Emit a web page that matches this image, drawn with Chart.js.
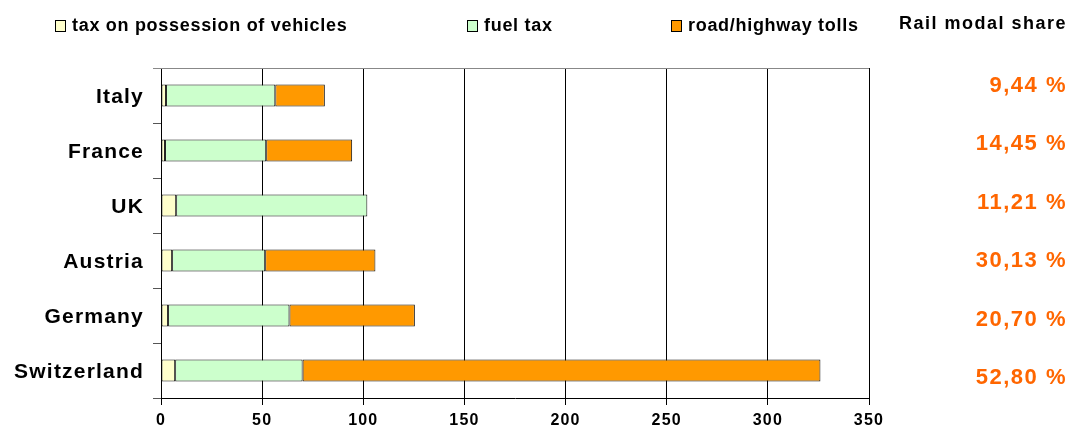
<!DOCTYPE html>
<html>
<head>
<meta charset="utf-8">
<script src="https://cdn.jsdelivr.net/npm/chart.js@4"></script>
<style>
  html, body { margin: 0; padding: 0; background: #fff; }
  #wrap { width: 1072px; height: 435px; }
</style>
</head>
<body>
<div id="wrap"><canvas id="chart"></canvas></div>
<script>
const countries = ['Italy', 'France', 'UK', 'Austria', 'Germany', 'Switzerland'];
const possessionTax = [2.5, 2, 7.5, 5.5, 3.5, 7];
const fuelTax = [54, 50, 94.5, 46, 60, 63];
const tolls = [24.5, 42.5, 0, 54.5, 62, 256];
const railShare = ['9,44 %', '14,45 %', '11,21 %', '30,13 %', '20,70 %', '52,80 %'];
const xTicks = [0, 50, 100, 150, 200, 250, 300, 350];

const FONT = '"Liberation Sans", Arial, sans-serif';

// wider letter spacing for the axis labels
const spacing = {
  id: 'spacing',
  beforeDraw(chart) { chart.ctx.letterSpacing = '1.2px'; }
};

// legend, top border and the rail modal share column drawn by hand
const extras = {
  id: 'extras',
  afterDraw(chart) {
    const ctx = chart.ctx;
    const area = chart.chartArea;
    ctx.save();
    ctx.strokeStyle = '#888';
    ctx.lineWidth = 1;
    ctx.beginPath();
    ctx.moveTo(area.left - 8, Math.round(area.top) + 0.5);
    ctx.lineTo(area.right, Math.round(area.top) + 0.5);
    ctx.stroke();

    ctx.letterSpacing = '0.7px';
    ctx.font = 'bold 18px ' + FONT;
    ctx.textBaseline = 'middle';
    const legendX = [55, 467, 671];
    chart.data.datasets.forEach((ds, i) => {
      const x = legendX[i];
      ctx.fillStyle = ds.backgroundColor;
      ctx.fillRect(x + 0.5, 20.5, 10, 11);
      ctx.strokeStyle = '#000';
      ctx.strokeRect(x + 0.5, 20.5, 10, 11);
      ctx.fillStyle = '#000';
      ctx.textAlign = 'left';
      ctx.fillText(ds.label, x + 17, 26);
    });
    ctx.letterSpacing = '1.5px';
    ctx.font = 'bold 18px ' + FONT;
    ctx.textAlign = 'right';
    ctx.fillText('Rail modal share', 1067, 24);

    const y = chart.scales.y;
    const y0 = y.getPixelForValue(0);
    ctx.font = 'bold 22px ' + FONT;
    ctx.fillStyle = '#ff6600';
    railShare.forEach((t, i) => {
      const py = 86 + (y.getPixelForValue(i) - y0) * 58.4 / 55;
      ctx.fillText(t, 1067, py);
    });
    ctx.restore();
  }
};

new Chart(document.getElementById('chart'), {
  type: 'bar',
  data: {
    labels: countries,
    datasets: [
      { label: 'tax on possession of vehicles', data: possessionTax, backgroundColor: '#ffffcc' },
      { label: 'fuel tax', data: fuelTax, backgroundColor: '#ccffcc' },
      { label: 'road/highway tolls', data: tolls, backgroundColor: '#ff9900' }
    ]
  },
  options: {
    indexAxis: 'y',
    responsive: true,
    maintainAspectRatio: false,
    animation: false,
    datasets: {
      bar: {
        borderColor: '#111',
        borderWidth: 1,
        borderSkipped: false,
        categoryPercentage: 0.4,
        barPercentage: 1
      }
    },
    layout: { padding: { top: 68, right: 203, left: 0, bottom: 0 } },
    plugins: {
      legend: { display: false },
      tooltip: { enabled: false }
    },
    scales: {
      x: {
        stacked: true,
        min: 0,
        max: 350,
        afterBuildTicks: (scale) => { scale.ticks = xTicks.map(v => ({ value: v })); },
        afterFit: (scale) => { scale.height = 37; },
        grid: { color: '#000', lineWidth: 1, tickLength: 7 },
        border: { color: '#000', width: 1 },
        ticks: { color: '#000', padding: 6, font: { family: FONT, size: 16, weight: 'bold' } }
      },
      y: {
        stacked: true,
        afterFit: (scale) => { scale.width = 161; },
        grid: { offset: true, drawOnChartArea: false, color: '#555', tickLength: 8 },
        border: { color: '#000', width: 1 },
        ticks: { color: '#000', padding: 9, labelOffset: 2, font: { family: FONT, size: 21, weight: 'bold' } }
      }
    }
  },
  plugins: [spacing, extras]
});
</script>
</body>
</html>
